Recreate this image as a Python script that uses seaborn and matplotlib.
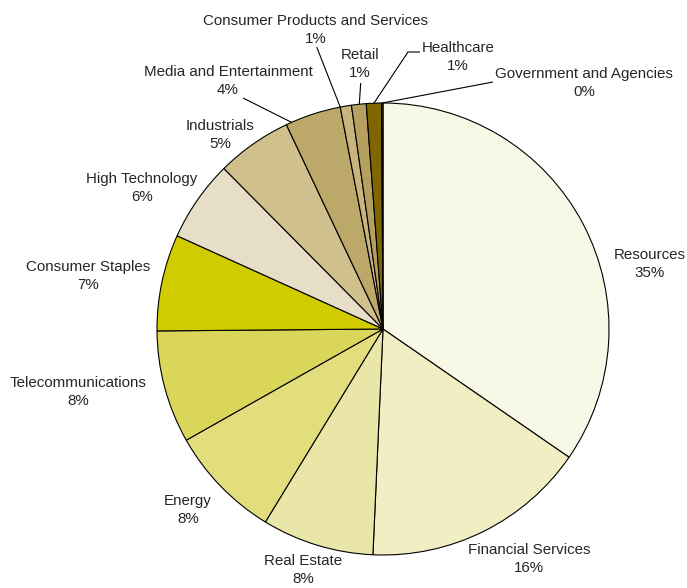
import matplotlib
matplotlib.use("Agg")
import matplotlib.pyplot as plt
import seaborn as sns
import numpy as np

# ---- data ----
sectors = ["Resources", "Financial Services", "Real Estate", "Energy",
           "Telecommunications", "Consumer Staples", "High Technology",
           "Industrials", "Media and Entertainment",
           "Consumer Products and Services", "Retail", "Healthcare",
           "Government and Agencies"]
shares = [34.6, 16.1, 8.0, 8.1, 8.05, 6.9, 5.8, 5.4, 4.0, 0.8, 1.05, 1.08, 0.1]
colors = ["#F8F8E6", "#F0EEC2", "#EAE6A8", "#E2DE7E", "#DAD65A", "#D0CC00",
          "#E6DEC6", "#CFC08E", "#BCA868", "#C8B47C", "#B5A060", "#806600",
          "#5A4A00"]

sns.set_theme(style="white")
plt.rcParams['font.family'] = ['Liberation Sans', 'DejaVu Sans']

W, H = 687, 588
CX, CY, R = 383, 329, 226

fig = plt.figure(figsize=(W / 100, H / 100), dpi=100)
ax = fig.add_axes([0, 0, 1, 1])


def px(x, y):
    return (x - CX) / R, (CY - y) / R


wedges, _ = ax.pie(shares, colors=colors, startangle=90, counterclock=False,
                   radius=1, center=(0, 0), frame=True,
                   wedgeprops=dict(edgecolor="black", linewidth=0.8))
ax.set_xlim(-CX / R, (W - CX) / R)
ax.set_ylim((CY - H) / R, CY / R)
ax.set_aspect("auto")
ax.axis("off")

# label layout (pixel centres of each two-line label)
label_pos = [(650, 264), (529, 559), (303, 570), (188, 510), (78, 392),
             (88, 276), (142, 188), (220, 135), (228, 81), (316, 30),
             (360, 64), (458, 57), (584, 83)]

for name, val, (lx, ly) in zip(sectors, shares, label_pos):
    x, y = px(lx, ly)
    ax.text(x, y, f"{name}\n{round(val):.0f}%", ha="center", va="center",
            fontsize=10.9, color="#262626", linespacing=1.35)

# leader lines: (wedge index, fraction along wedge, text-side path in pixels)
leaders = [
    (8, 0.9, [(243, 98)]),
    (9, 1.0, [(316.7, 47)]),
    (10, 0.47, [(360.7, 83)]),
    (11, 0.5, [(420, 52), (408, 52)]),
    (12, 0.5, [(493, 82)]),
]
for idx, frac, path in leaders:
    w = wedges[idx]
    ang = np.deg2rad(w.theta1 + frac * (w.theta2 - w.theta1))
    ex, ey = np.cos(ang), np.sin(ang)
    pts = [px(*p) for p in path] + [(ex, ey)]
    xs, ys = zip(*pts)
    ax.plot(xs, ys, color="black", linewidth=0.8, solid_capstyle="butt")

fig.savefig("out.png", dpi=100)
